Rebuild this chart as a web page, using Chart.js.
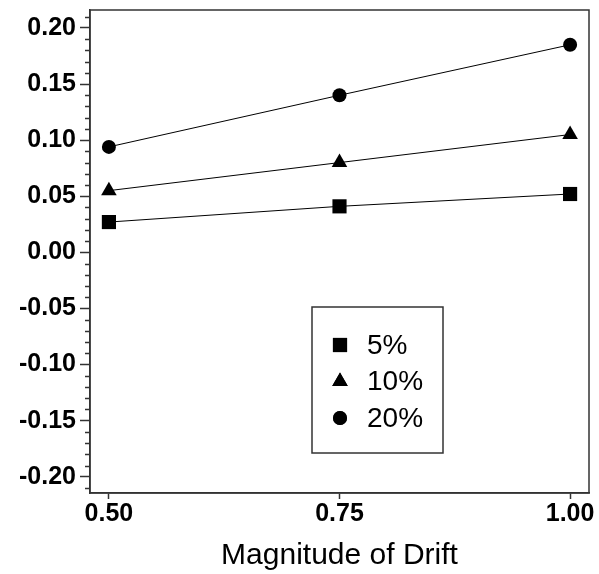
<!DOCTYPE html>
<html>
<head>
<meta charset="utf-8">
<script src="https://cdn.jsdelivr.net/npm/chart.js@4/dist/chart.umd.min.js"></script>
<style>
  body { margin: 0; background: #fff; }
  #drift_chart { display: block; }
</style>
</head>
<body>
<canvas id="drift_chart" width="599" height="574"></canvas>
<script>
// magnitude of drift (x) and the three series
const driftLevels = [0.50, 0.75, 1.00];
const rate5 = [0.027, 0.041, 0.052];
const rate10 = [0.055, 0.080, 0.105];
const rate20 = [0.094, 0.140, 0.185];
const seriesLabels = ['5%', '10%', '20%'];
const seriesMarkers = ['rect', 'triangle', 'circle'];

const xTickValues = [0.50, 0.75, 1.00];
const yTickValues = [-0.20, -0.15, -0.10, -0.05, 0.00, 0.05, 0.10, 0.15, 0.20];
const yMinorStep = 0.01;

const axisColor = '#333';

function toPoints(values) {
    return driftLevels.map(function(x, i) { return {x: x, y: values[i]}; });
}

// marker radius per style so the shapes look the same size as the original
const markerRadius = {rect: 10, triangle: 9, circle: 7};

function makeDataset(label, values, marker) {
    return {
        label: label,
        data: toPoints(values),
        showLine: true,
        borderColor: '#000',
        borderWidth: 1,
        pointStyle: marker,
        pointRadius: markerRadius[marker],
        pointHoverRadius: markerRadius[marker],
        pointBackgroundColor: '#000',
        pointBorderColor: '#000',
        pointBorderWidth: 0
    };
}

// frame around plot + minor ticks on y
const framePlugin = {
    id: 'frame',
    afterDraw: function(chart) {
        const ctx = chart.ctx;
        const a = chart.chartArea;
        const y = chart.scales.y;
        ctx.save();
        ctx.strokeStyle = axisColor;
        ctx.lineWidth = 1.5;
        ctx.strokeRect(a.left, a.top, a.right - a.left, a.bottom - a.top);

        ctx.beginPath();
        for (let v = -0.21; v <= 0.2101; v += yMinorStep) {
            const r = Math.round(v * 100);
            if (r % 5 === 0) continue;
            const py = Math.round(y.getPixelForValue(v)) + 0.5;
            ctx.moveTo(a.left - 5, py);
            ctx.lineTo(a.left, py);
        }
        ctx.stroke();
        ctx.restore();
    }
};

// boxed legend inside the plot
const boxLegendPlugin = {
    id: 'boxLegend',
    afterDraw: function(chart) {
        const ctx = chart.ctx;
        const box = {left: 312, top: 307, right: 443, bottom: 453};
        ctx.save();
        ctx.fillStyle = '#fff';
        ctx.fillRect(box.left, box.top, box.right - box.left, box.bottom - box.top);
        ctx.strokeStyle = axisColor;
        ctx.lineWidth = 1.5;
        ctx.strokeRect(box.left, box.top, box.right - box.left, box.bottom - box.top);

        ctx.font = '28px Arial, "Liberation Sans", sans-serif';
        ctx.textBaseline = 'middle';
        ctx.textAlign = 'left';
        chart.data.datasets.forEach(function(ds, i) {
            const rowY = 345 + i * 36.5;
            ctx.fillStyle = '#000';
            ctx.strokeStyle = '#000';
            Chart.helpers.drawPoint(ctx, {
                pointStyle: ds.pointStyle,
                radius: ds.pointRadius,
                rotation: 0,
                borderWidth: 0
            }, 340, rowY);
            ctx.fill();
            ctx.fillText(ds.label, 367, rowY + 1);
        });
        ctx.restore();
    }
};

const chart_drift = document.getElementById('drift_chart');

let chartDrift = new Chart(chart_drift, {
    type: 'scatter',
    data: {
        datasets: [
            makeDataset(seriesLabels[0], rate5, seriesMarkers[0]),
            makeDataset(seriesLabels[1], rate10, seriesMarkers[1]),
            makeDataset(seriesLabels[2], rate20, seriesMarkers[2])
        ]
    },
    options: {
        responsive: false,
        animation: false,
        layout: {
            padding: {top: 7, right: 8, bottom: 0, left: 0}
        },
        plugins: {
            legend: {display: false},
            tooltip: {enabled: false}
        },
        scales: {
            x: {
                type: 'linear',
                min: 0.4795,
                max: 1.0205,
                afterBuildTicks: function(scale) {
                    scale.ticks = xTickValues.map(function(v) { return {value: v}; });
                },
                afterFit: function(scale) {
                    scale.height = 81;
                    scale.paddingLeft = 0;
                    scale.paddingRight = 0;
                },
                ticks: {
                    padding: 0,
                    color: '#000',
                    font: {family: 'Arial, "Liberation Sans", sans-serif', size: 25, weight: 'bold'},
                    callback: function(value) {
                        return value.toFixed(2);
                    }
                },
                grid: {
                    drawOnChartArea: false,
                    tickLength: 6,
                    tickColor: axisColor,
                    tickWidth: 1.5
                },
                border: {color: axisColor, width: 1.5},
                title: {
                    display: true,
                    text: 'Magnitude of Drift',
                    color: '#000',
                    font: {family: 'Arial, "Liberation Sans", sans-serif', size: 30, weight: 'normal'},
                    padding: {top: 0, bottom: 0}
                }
            },
            y: {
                min: -0.2145,
                max: 0.216,
                afterBuildTicks: function(scale) {
                    scale.ticks = yTickValues.map(function(v) { return {value: v}; });
                },
                afterFit: function(scale) {
                    scale.width = 90;
                    scale.paddingTop = 0;
                    scale.paddingBottom = 0;
                },
                ticks: {
                    padding: 4,
                    color: '#000',
                    font: {family: 'Arial, "Liberation Sans", sans-serif', size: 25, weight: 'bold'},
                    callback: function(value) {
                        return value.toFixed(2);
                    }
                },
                grid: {
                    drawOnChartArea: false,
                    tickLength: 10,
                    tickColor: axisColor,
                    tickWidth: 1.5
                },
                border: {color: axisColor, width: 1.5}
            }
        }
    },
    plugins: [framePlugin, boxLegendPlugin]
});
</script>
</body>
</html>
